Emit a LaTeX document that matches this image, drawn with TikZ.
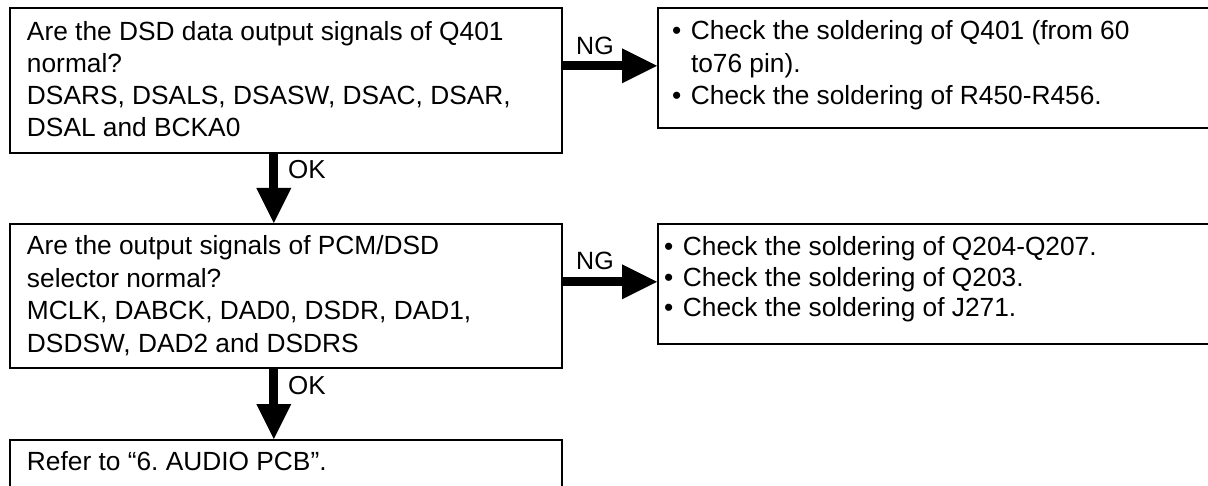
\documentclass[tikz,border=0pt]{standalone}
\usepackage{fontspec}
\setmainfont{Liberation Sans}
\usetikzlibrary{arrows.meta,positioning}
\frenchspacing
\newcommand{\bul}{\makebox[19pt][l]{\textbullet}}
\newcommand{\bulind}{\hspace*{19pt}}
\tikzset{
  box/.style={draw=black, line width=1.6pt, rectangle, inner sep=0pt, anchor=north west},
  txt/.style={anchor=base west, inner sep=0pt, outer sep=0pt},
  flow/.style={line width=9pt, -{Triangle[length=35pt,width=35pt,line width=0pt]}},
  lbl/.style={anchor=base west, inner sep=0pt}
}
\newcommand{\boxtext}[2]{\parbox[t]{600pt}{\raggedright\frenchspacing\fontsize{26.3}{#1}\selectfont #2}}
\begin{document}
\begin{tikzpicture}[x=1pt,y=-1pt]
\useasboundingbox (0,0) rectangle (1208,486);
\clip (0,0) rectangle (1208,486);
\fill[white] (0,0) rectangle (1208,486);
% boxes
\node[box, minimum width=552pt, minimum height=145pt] (b1) at (9,7) {};
\node[box, minimum width=570pt, minimum height=120pt] (b2) at (657,7) {};
\node[box, minimum width=552pt, minimum height=144pt] (b3) at (9,223) {};
\node[box, minimum width=570pt, minimum height=120pt] (b4) at (657,223) {};
\node[box, minimum width=552pt, minimum height=80pt] (b5) at (9,439) {};
% texts
\node[txt] (t1) at (27,40.5) {\boxtext{32}{Are the DSD data output signals of Q401\\normal?\\DSARS, DSALS, DSASW, DSAC, DSAR,\\DSAL and BCKA0}};
\node[txt] (t2) at (672,40) {\boxtext{32.5}{\bul Check the soldering of Q401 (from 60\\\bulind to76 pin).\\\bul Check the soldering of R450-R456.}};
\node[txt] (t3) at (27,255) {\boxtext{32.5}{Are the output signals of PCM/DSD\\selector normal?\\MCLK, DABCK, DAD0, DSDR, DAD1,\\DSDSW, DAD2 and DSDRS}};
\node[txt] (t4) at (664,256) {\boxtext{30.5}{\bul Check the soldering of Q204-Q207.\\\bul Check the soldering of Q203.\\\bul Check the soldering of J271.}};
\node[txt] (t5) at (27,470) {\boxtext{32}{Refer to “6. AUDIO PCB”.}};
% connector end points
\coordinate (e2) at ([yshift=2pt]b2.west);
\coordinate (e4) at ([yshift=2pt]b4.west);
\coordinate (s1) at ([xshift=-12pt]b1.south);
\coordinate (e3) at ([xshift=-12pt]b3.north);
\coordinate (s3) at ([xshift=-12pt]b3.south);
\coordinate (e5) at ([xshift=-12pt]b5.north);
% connectors
\draw[flow] (b1.east |- e2) -- (e2);
\draw[flow] (b3.east |- e4) -- (e4);
\draw[flow] (s1) -- (e3);
\draw[flow] (s3) -- (e5);
% labels
\node[lbl, font=\fontsize{25}{29}\selectfont] (ng1) at (576,55) {NG};
\node[lbl, font=\fontsize{25}{29}\selectfont] (ng2) at (576,270) {NG};
\node[lbl, font=\fontsize{26}{30}\selectfont] (ok1) at (288,179) {OK};
\node[lbl, font=\fontsize{26}{30}\selectfont] (ok2) at (288,395) {OK};
\end{tikzpicture}
\end{document}
